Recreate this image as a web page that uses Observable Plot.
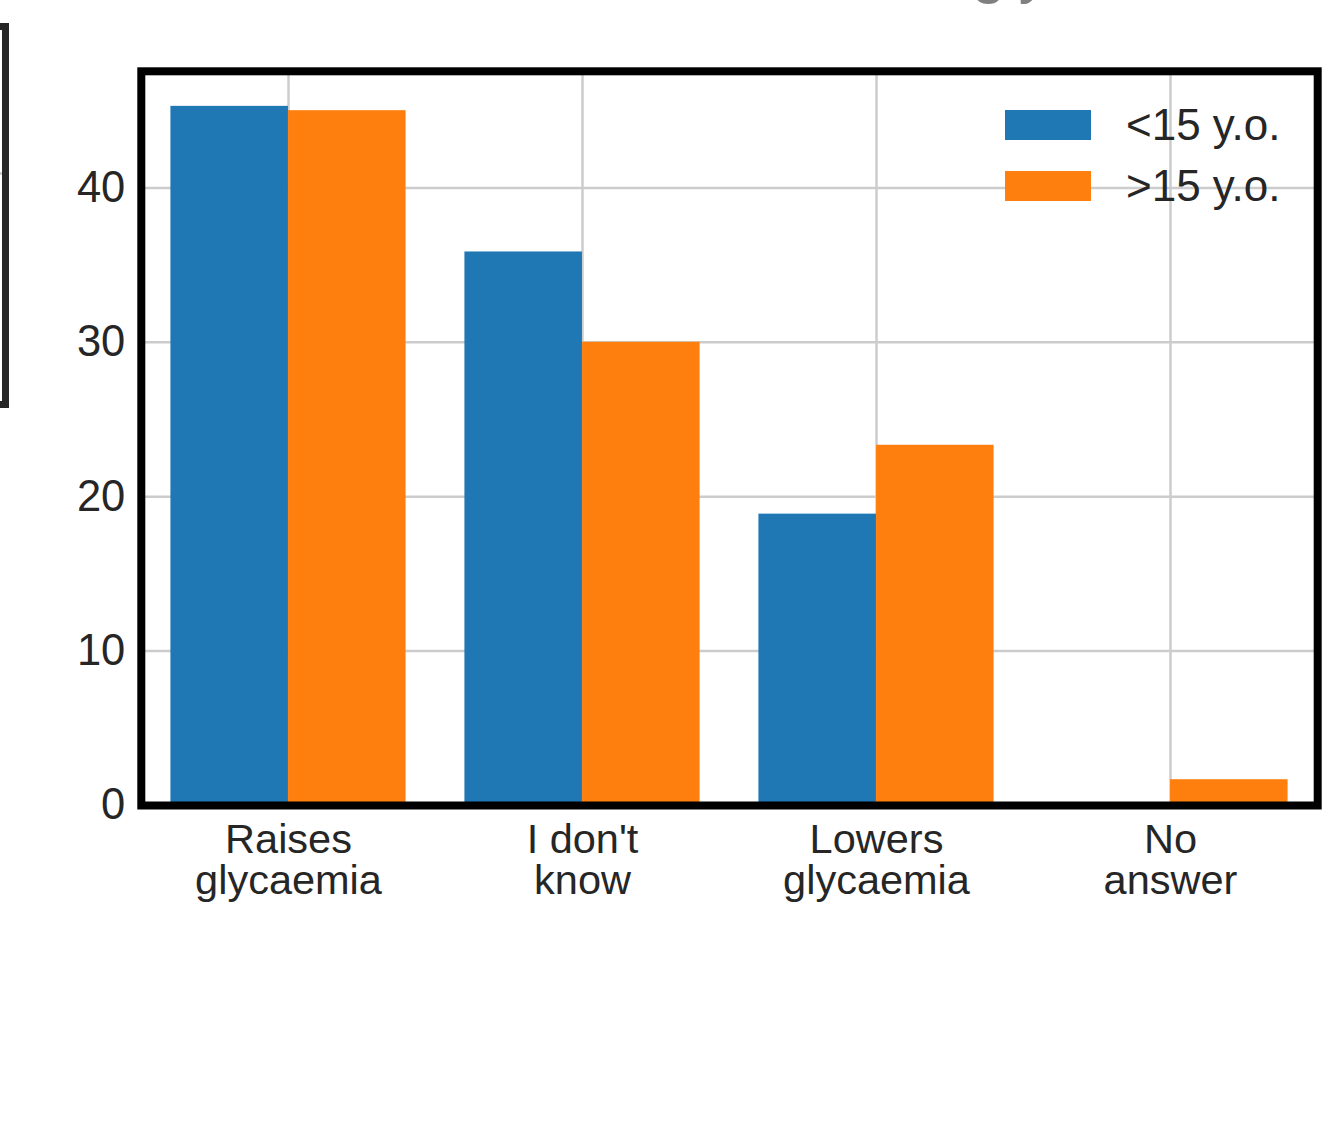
<!DOCTYPE html>
<html>
<head>
<meta charset="utf-8">
<script src="https://cdn.jsdelivr.net/npm/d3@7"></script>
<script src="https://cdn.jsdelivr.net/npm/@observablehq/plot@0.6"></script>
<style>
  html, body { margin: 0; padding: 0; background: #fff; overflow: hidden; }
  #wrap { position: relative; width: 1332px; height: 1145px; overflow: hidden;
          font-family: "Liberation Sans", Arial, Helvetica, sans-serif; color: #262626; }
  #chart { position: absolute; left: 0; top: 0; }
  .legend { position: absolute; left: 1005px; top: 110px; }
  .legend .row { position: relative; height: 61px; }
  .legend .sw { position: absolute; left: 0; top: 0; width: 86px; height: 30px; }
  .legend .lbl { position: absolute; left: 121px; top: -10px; font-size: 44px; line-height: 50px; white-space: nowrap; color: #262626; }
  .sideframe { position: absolute; left: -50px; top: 23px; width: 59px; height: 385px;
               box-sizing: border-box; border: 7px solid #262626; }
  .sidegrid { position: absolute; left: 0; top: 172px; width: 2px; height: 2.5px; background: #cccccc; }
  .title { position: absolute; left: 972px; top: -58px; font-size: 60px; line-height: 60px;
           color: #808080; white-space: nowrap; }
</style>
</head>
<body>
<div id="wrap">
  <div class="title">glycaemia</div>
  <div class="sideframe"></div>
  <div class="sidegrid"></div>
  <div id="chart"></div>
  <div class="legend" id="legend"></div>
</div>
<script>
// ---- Data ----
const categories = ["Raises glycaemia", "I don't know", "Lowers glycaemia", "No answer"];
const tickLabels = ["Raises\nglycaemia", "I don't\nknow", "Lowers\nglycaemia", "No\nanswer"];
const seriesNames = ["<15 y.o.", ">15 y.o."];
const under15 = [45.28, 35.85, 18.87, 0];
const over15 = [45.0, 30.0, 23.33, 1.67];
const yTicks = [0, 10, 20, 30, 40];
const colors = ["#1f77b4", "#ff7f0e"];

const rows = categories.flatMap((c, i) => [
  {category: c, series: seriesNames[0], value: under15[i]},
  {category: c, series: seriesNames[1], value: over15[i]}
]);

// ---- Layout ----
const W = 1332, H = 1145;
const mL = 140.8, mR = 14.8, mT = 70.8, mB = H - 805;
const bw = (W - mL - mR) / categories.length;

const chart = Plot.plot({
  width: W,
  height: H,
  marginLeft: mL,
  marginRight: mR,
  marginTop: mT,
  marginBottom: mB,
  style: {fontFamily: '"Liberation Sans", Arial, Helvetica, sans-serif', color: "#262626", background: "transparent", overflow: "visible"},
  x: {type: "band", domain: categories, padding: 0},
  y: {domain: [0, 47.55]},
  color: {domain: seriesNames, range: colors},
  marks: [
    Plot.gridY(yTicks, {stroke: "#cccccc", strokeOpacity: 1, strokeWidth: 2.5}),
    Plot.gridX(categories, {stroke: "#cccccc", strokeOpacity: 1, strokeWidth: 2.5}),
    Plot.barY(rows.filter(d => d.series === seriesNames[0]), {
      x: "category", y: "value", fill: "series", insetLeft: 0.1 * bw, insetRight: 0.5 * bw
    }),
    Plot.barY(rows.filter(d => d.series === seriesNames[1]), {
      x: "category", y: "value", fill: "series", insetLeft: 0.5 * bw, insetRight: 0.1 * bw
    }),
    Plot.frame({stroke: "black", strokeWidth: 8}),
    Plot.axisY(yTicks, {tickSize: 0, tickPadding: 16, fontSize: 43.5, label: null}),
    Plot.axisX({
      tickSize: 0, tickPadding: 18, fontSize: 41.5, lineHeight: 1, label: null,
      tickFormat: d => tickLabels[categories.indexOf(d)]
    })
  ]
});
document.getElementById("chart").appendChild(chart);

// ---- Legend ----
const legend = document.getElementById("legend");
seriesNames.forEach((s, i) => {
  const row = document.createElement("div");
  row.className = "row";
  const sw = document.createElement("div");
  sw.className = "sw";
  sw.style.background = colors[i];
  const lbl = document.createElement("div");
  lbl.className = "lbl";
  lbl.textContent = s;
  row.appendChild(sw);
  row.appendChild(lbl);
  legend.appendChild(row);
});
</script>
</body>
</html>
